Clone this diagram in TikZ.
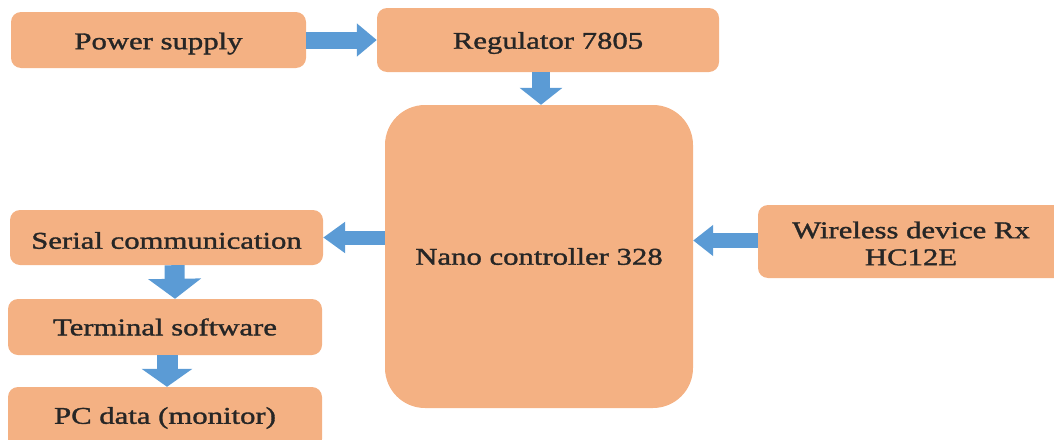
\documentclass[tikz,border=0pt]{standalone}
\usepackage{fontspec}
\setmainfont{Liberation Serif}[FakeStretch=1.28,FakeBold=1.4]
\usetikzlibrary{arrows.meta,calc}
\definecolor{boxfill}{HTML}{F4B183}
\definecolor{arrblue}{HTML}{5B9BD5}
\definecolor{txt}{HTML}{262626}
\newcommand{\dnshift}[2]{\raisebox{-#1}[\height][\depth]{#2}}
\begin{document}
\begin{tikzpicture}[x=1pt,y=-1pt,
  blk/.style={fill=boxfill,draw=none,rounded corners=10pt,inner sep=0pt,align=center,
    text=txt,font=\fontsize{24}{27}\selectfont},
  arr/.style={draw=arrblue,line width=#1},
]
\useasboundingbox (0,0) rectangle (1054,439);
\clip (0,0) rectangle (1054,439);
\node[blk,minimum width=295pt,minimum height=56pt] (ps) at (158.5,40) {\dnshift{3.5pt}{Power supply}};
\node[blk,minimum width=342pt,minimum height=64pt] (reg) at (548,40) {\dnshift{3pt}{Regulator 7805}};
\node[blk,minimum width=308pt,minimum height=303pt,rounded corners=40pt] (nano) at (539,256.5) {Nano controller 328};
\node[blk,minimum width=306pt,minimum height=73pt] (wl) at (911,241.5) {\dnshift{2pt}{Wireless device Rx}\\\dnshift{2pt}{HC12E}};
\node[blk,minimum width=313pt,minimum height=55pt] (ser) at (166.5,237.5) {\dnshift{3pt}{Serial communication}};
\node[blk,minimum width=314pt,minimum height=56pt] (term) at (165,327) {Terminal software};
\node[blk,minimum width=314pt,minimum height=62pt] (pc) at (165,418) {PC data (monitor)};
% arrows
\draw[arr=17pt,-{Triangle[width=32pt,length=20pt]}] (ps.east) -- (reg.west);
\draw[arr=18pt,-{Triangle[width=42pt,length=17pt]}] ($(reg.south -| nano.north)+(2,0)$) -- ($(nano.north)+(2,0)$);
\draw[arr=14pt,-{Triangle[width=30pt,length=22pt]}] (nano.west |- ser.east) -- (ser.east);
\draw[arr=15pt,-{Triangle[width=30pt,length=20pt]}] ($(wl.west)+(0,-1)$) -- ($(wl.west -| nano.east)+(0,-1)$);
\draw[arr=20pt,-{Triangle[width=52pt,length=20pt]}] ($(ser.south)+(8,0)$) -- ($(term.north)+(10,0)$);
\draw[arr=21pt,-{Triangle[width=50pt,length=18pt]}] ($(term.south)+(2,0)$) -- ($(pc.north)+(2,0)$);
\end{tikzpicture}
\end{document}
